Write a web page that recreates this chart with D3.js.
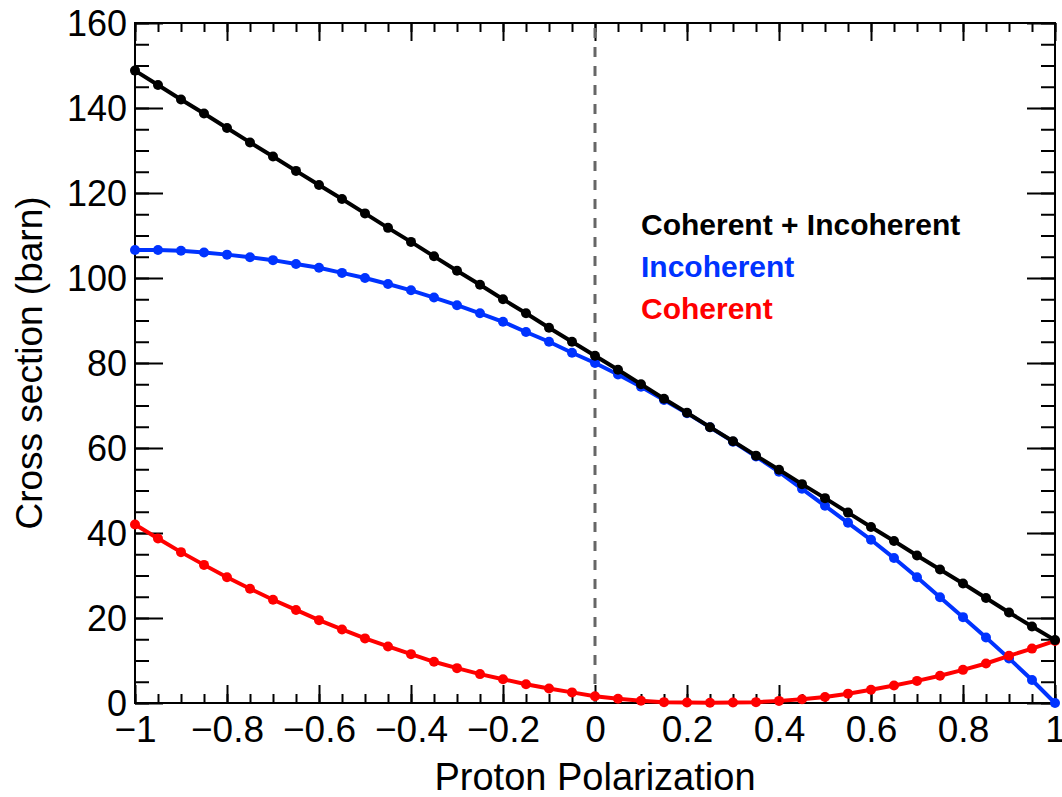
<!DOCTYPE html>
<html>
<head>
<meta charset="utf-8">
<script src="https://cdn.jsdelivr.net/npm/d3@7"></script>
<style>
  body { margin: 0; background: #fff; }
  svg { display: block; font-family: "Liberation Sans", Arial, sans-serif; }
</style>
</head>
<body>
<svg></svg>
<script>
// proton polarization (x) and cross sections in barn
const polarization = [-1, -0.95, -0.9, -0.85, -0.8, -0.75, -0.7, -0.65, -0.6, -0.55, -0.5,
    -0.45, -0.4, -0.35, -0.3, -0.25, -0.2, -0.15, -0.1, -0.05, 0,
    0.05, 0.1, 0.15, 0.2, 0.25, 0.3, 0.35, 0.4, 0.45, 0.5,
    0.55, 0.6, 0.65, 0.7, 0.75, 0.8, 0.85, 0.9, 0.95, 1];
const total = [148.8, 145.4, 142.0, 138.7, 135.3, 131.9, 128.6, 125.2, 121.9, 118.6, 115.2,
    111.8, 108.5, 105.1, 101.7, 98.4, 95.0, 91.7, 88.3, 85.0, 81.7,
    78.4, 75.0, 71.6, 68.3, 64.9, 61.6, 58.2, 54.9, 51.5, 48.2,
    44.8, 41.4, 38.1, 34.7, 31.4, 28.1, 24.7, 21.3, 18.0, 14.8];
const incoherent = [106.6, 106.6, 106.4, 106.0, 105.5, 104.9, 104.2, 103.3, 102.4, 101.2, 100.0,
    98.6, 97.1, 95.4, 93.6, 91.7, 89.7, 87.3, 85.0, 82.4, 80.0,
    77.3, 74.4, 71.3, 68.2, 64.9, 61.5, 58.0, 54.4, 50.4, 46.4,
    42.4, 38.4, 34.1, 29.6, 24.9, 20.2, 15.4, 10.5, 5.4, 0.0];
const coherent = [42.0, 38.7, 35.5, 32.5, 29.6, 26.9, 24.3, 21.9, 19.5, 17.3, 15.2,
    13.3, 11.5, 9.7, 8.2, 6.8, 5.6, 4.4, 3.4, 2.5, 1.6,
    1.0, 0.55, 0.2, 0.1, 0.05, 0.1, 0.2, 0.5, 0.9, 1.4,
    2.2, 3.1, 4.1, 5.2, 6.4, 7.8, 9.3, 11.1, 12.8, 14.6];

const xTicks = [-1, -0.8, -0.6, -0.4, -0.2, 0, 0.2, 0.4, 0.6, 0.8, 1];
const yTicks = [0, 20, 40, 60, 80, 100, 120, 140, 160];

const seriesNames = ["Coherent + Incoherent", "Incoherent", "Coherent"];
const seriesColors = ["#000000", "#0033ff", "#ff0000"];

const width = 1062, height = 797;
const mLeft = 135, mRight = 1055, mTop = 23, mBottom = 703;

var svg = d3.select("svg")
    .attr("width", width)
    .attr("height", height);

svg.append("rect").attr("width", width).attr("height", height).attr("fill", "#fff");

const x = d3.scaleLinear().domain([-1, 1]).range([mLeft, mRight]);
const y = d3.scaleLinear().domain([0, 160]).range([mBottom, mTop]);

const xMinor = d3.range(-1, 1.0001, 0.05).map(d => Math.round(d * 100) / 100);
const yMinor = d3.range(0, 161, 5);
const fmt = d3.format("~g");

// ticks, all pointing inward (ROOT style)
function tickAxis(axis, tr, size, values, labels) {
    const g = svg.append("g").attr("transform", tr)
        .call(axis.tickValues(values).tickSizeInner(size).tickSizeOuter(0)
            .tickPadding(10).tickFormat(labels ? fmt : ""));
    g.select(".domain").remove();
    g.selectAll(".tick line").attr("stroke", "#000").attr("stroke-width", 2);
    return g;
}
tickAxis(d3.axisBottom(x), `translate(0,${mBottom})`, -9, xMinor, false);
const xg = tickAxis(d3.axisBottom(x), `translate(0,${mBottom})`, -18, xTicks, true);
tickAxis(d3.axisTop(x), `translate(0,${mTop})`, -9, xMinor, false);
tickAxis(d3.axisTop(x), `translate(0,${mTop})`, -18, xTicks, false);
tickAxis(d3.axisLeft(y), `translate(${mLeft},0)`, -14, yMinor, false);
const yg = tickAxis(d3.axisLeft(y), `translate(${mLeft},0)`, -28, yTicks, true);
tickAxis(d3.axisRight(y), `translate(${mRight},0)`, -14, yMinor, false);
tickAxis(d3.axisRight(y), `translate(${mRight},0)`, -28, yTicks, false);

xg.selectAll(".tick text")
    .attr("y", 0).attr("dy", 0)
    .attr("transform", "translate(0,39)")
    .attr("font-size", 37).attr("fill", "#000");
yg.selectAll(".tick text")
    .attr("x", -8).attr("dy", "0.36em")
    .attr("font-size", 36).attr("fill", "#000");
svg.selectAll(".tick text").attr("font-family", "Liberation Sans, Arial, sans-serif");

// dashed line at zero polarization
svg.append("line")
    .attr("x1", x(0)).attr("x2", x(0))
    .attr("y1", y(0)).attr("y2", y(160))
    .attr("stroke", "#666")
    .attr("stroke-width", 3)
    .attr("stroke-dasharray", "10,9");

// frame
svg.append("rect")
    .attr("x", mLeft).attr("y", mTop)
    .attr("width", mRight - mLeft).attr("height", mBottom - mTop)
    .attr("fill", "none").attr("stroke", "#000").attr("stroke-width", 2);

const line = d3.line()
    .x(d => x(d[0]))
    .y(d => y(d[1]));

function drawSeries(values, color) {
    const pts = polarization.map((p, i) => [p, values[i]]);
    svg.append("path")
        .datum(pts)
        .attr("d", line)
        .attr("fill", "none")
        .attr("stroke", color)
        .attr("stroke-width", 4);
    svg.append("g").selectAll("circle")
        .data(pts)
        .enter()
        .append("circle")
        .attr("cx", d => x(d[0]))
        .attr("cy", d => y(d[1]))
        .attr("r", 5)
        .attr("fill", color);
}

drawSeries(incoherent, seriesColors[1]);
drawSeries(coherent, seriesColors[2]);
drawSeries(total, seriesColors[0]);

// legend text
svg.selectAll(".legend")
    .data(seriesNames)
    .enter()
    .append("text")
    .attr("class", "legend")
    .attr("x", 641)
    .attr("y", (d, i) => 235 + i * 42)
    .attr("font-size", 30)
    .attr("font-weight", "bold")
    .attr("fill", (d, i) => seriesColors[i])
    .text(d => d);

// axis titles
svg.append("text")
    .attr("x", (mLeft + mRight) / 2)
    .attr("y", 790)
    .attr("text-anchor", "middle")
    .attr("font-size", 38)
    .text("Proton Polarization");

svg.append("text")
    .attr("transform", `translate(42,${(mTop + mBottom) / 2}) rotate(-90)`)
    .attr("text-anchor", "middle")
    .attr("font-size", 37)
    .text("Cross section (barn)");
</script>
</body>
</html>
